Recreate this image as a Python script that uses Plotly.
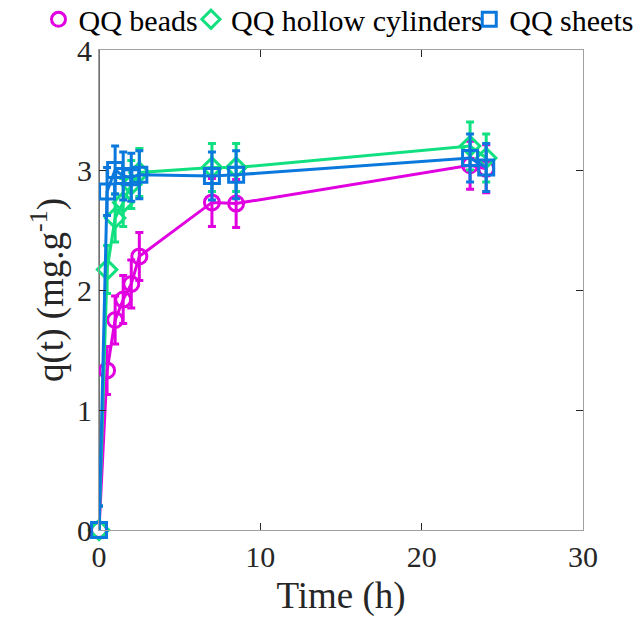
import plotly.graph_objects as go

time_h = [0, 0.5, 1, 1.5, 2, 2.5, 7, 8.5, 23, 24]
beads = [0.0, 1.33, 1.75, 1.92, 2.05, 2.28, 2.73, 2.72, 3.04, 3.01]
beads_err = [0.2, 0.2, 0.2, 0.2, 0.2, 0.2, 0.2, 0.2, 0.2, 0.2]
hollow = [0.0, 2.17, 2.6, 2.73, 2.88, 2.98, 3.02, 3.02, 3.2, 3.1]
hollow_err = [0.2, 0.2, 0.2, 0.2, 0.2, 0.2, 0.2, 0.2, 0.2, 0.2]
sheets = [0.0, 2.82, 3.0, 2.95, 2.94, 2.96, 2.95, 2.96, 3.1, 3.02]
sheets_err = [0.2, 0.2, 0.2, 0.2, 0.2, 0.2, 0.2, 0.2, 0.2, 0.2]

series = [
    ("QQ beads", beads, beads_err, "#e000e0", "circle-open", "legend"),
    ("QQ hollow cylinders", hollow, hollow_err, "#10e080", "diamond-open", "legend2"),
    ("QQ sheets", sheets, sheets_err, "#0a78dc", "square-open", "legend3"),
]

FONT = "Liberation Serif"
fig = go.Figure()
for name, vals, err, col, sym, lg in series:
    fig.add_trace(go.Scatter(
        x=time_h, y=vals, mode="lines+markers", name=name, showlegend=False,
        line=dict(color=col, width=3),
        marker=dict(symbol=sym, size=15, color=col, line=dict(width=3, color=col)),
        error_y=dict(type="data", array=err, visible=True, color=col, thickness=3, width=4),
        cliponaxis=False,
    ))
for name, vals, err, col, sym, lg in series:
    fig.add_trace(go.Scatter(
        x=[None], y=[None], mode="markers", name=name, showlegend=True, legend=lg,
        marker=dict(symbol=sym, size=14, color=col, line=dict(width=3, color=col)),
    ))

legend_x = {"legend": -0.125, "legend2": 0.19, "legend3": 0.765}
leg_common = dict(orientation="h", y=1.064, yanchor="middle", xanchor="left",
                  font=dict(family=FONT, size=30, color="black"),
                  itemwidth=30, bgcolor="rgba(0,0,0,0)", borderwidth=0)

fig.update_layout(
    width=638, height=619,
    margin=dict(l=99, r=55, t=50, b=89, autoexpand=False),
    plot_bgcolor="white", paper_bgcolor="white",
    font=dict(family=FONT, size=30, color="#262626"),
    showlegend=True,
    legend=dict(x=legend_x["legend"], **leg_common),
    legend2=dict(x=legend_x["legend2"], **leg_common),
    legend3=dict(x=legend_x["legend3"], **leg_common),
    xaxis=dict(range=[0, 30], tickvals=[0, 10, 20, 30], ticks="inside", ticklen=7,
               tickcolor="#262626", showline=True, linecolor="#a0a0a0", linewidth=1,
               mirror="ticks", showgrid=False, zeroline=False,
               title=dict(text="Time (h)", font=dict(family=FONT, size=37, color="#262626"), standoff=10),
               tickfont=dict(family=FONT, size=30)),
    yaxis=dict(range=[0, 4], tickvals=[0, 1, 2, 3, 4], ticks="inside", ticklen=7,
               tickcolor="#262626", showline=True, linecolor="#a0a0a0", linewidth=1,
               mirror="ticks", showgrid=False, zeroline=False,
               title=dict(text="q(t) (mg.g<sup>-1</sup>)", font=dict(family=FONT, size=37, color="#262626"), standoff=2),
               tickfont=dict(family=FONT, size=30)),
    shapes=[dict(type="line", xref="paper", yref="paper", x0=0, x1=0, y0=0, y1=1,
                 line=dict(color="#262626", width=1.3), layer="below")],
)

fig.write_html("out.html", config={"displayModeBar": False},
               post_script="document.body.style.margin='0';")
